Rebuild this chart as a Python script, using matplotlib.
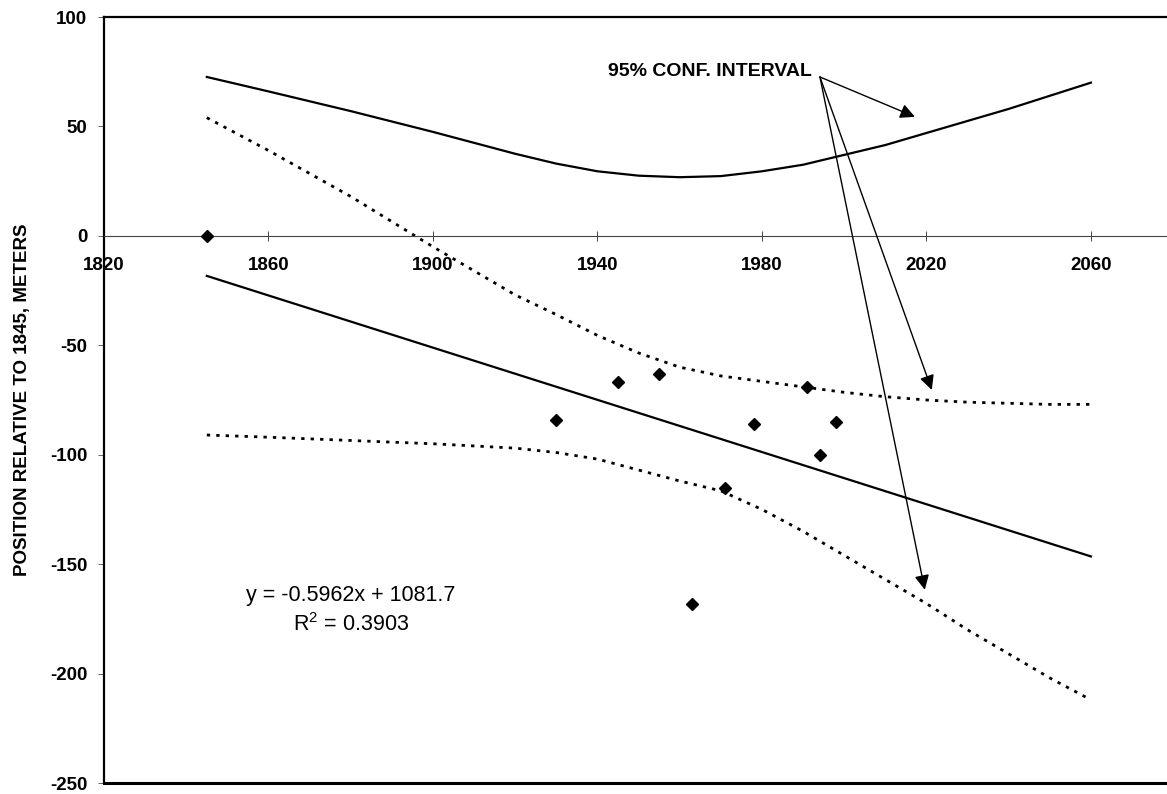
import numpy as np
import matplotlib.pyplot as plt

plt.rcParams['font.family'] = ['Liberation Sans', 'DejaVu Sans']
plt.rcParams['axes.unicode_minus'] = False

# survey points (year, position relative to 1845 in m)
years = [1845, 1930, 1945, 1955, 1963, 1971, 1978, 1991, 1994, 1998]
positions = [0, -84, -67, -63, -168, -115, -86, -69, -100, -85]

# linear trend shown on the chart
slope = -0.5962
intercept = 1081.7
trend_years = np.array([1845, 2060])

# 95% confidence band
band_years = [1845, 1860, 1880, 1900, 1910, 1920, 1930, 1940, 1950, 1960,
              1970, 1980, 1990, 2000, 2010, 2020, 2030, 2040, 2050, 2060]
band_width = [72.6, 66, 57, 47.5, 42.5, 37.5, 33, 29.5, 27.5, 26.8,
              27.3, 29.5, 32.5, 37, 41.5, 47, 52.5, 58, 64, 70]
band_upper = [54, 39, 18, -5, -16, -27, -36, -45.5, -53.5, -60,
              -64, -66.5, -69, -71.5, -73.5, -75, -76, -76.5, -77, -77]
band_lower = [-91, -92, -93.5, -95, -96, -97, -99, -102, -107, -112,
              -116.5, -125, -135, -146, -157, -168, -180, -191, -202, -212]

x_ticks = [1820, 1860, 1900, 1940, 1980, 2020, 2060]
y_ticks = [100, 50, 0, -50, -100, -150, -200, -250]

fig = plt.figure(figsize=(11.67, 7.94), dpi=100)
ax = fig.add_axes([104/1167, 1-783/794, 1-104/1167, (783-17)/794])

ax.plot(band_years, band_width, color='black', lw=1.6)
ax.plot(band_years, band_upper, color='black', lw=2, linestyle=(0, (1.2, 2.2)))
ax.plot(band_years, band_lower, color='black', lw=2, linestyle=(0, (1.2, 2.2)))
ax.plot(trend_years, slope*trend_years + intercept, color='black', lw=1.6)
ax.plot(years, positions, linestyle='none', marker='D', markersize=6, color='black', zorder=5)

ax.set_xlim(1820, 2078.5)
ax.set_ylim(-250, 100)

# x axis crosses at zero
ax.spines['bottom'].set_position(('data', 0))
ax.spines['bottom'].set_linewidth(0.8)
ax.spines['bottom'].set_color('#444444')
ax.spines['right'].set_visible(False)
ax.spines['top'].set_linewidth(1.6)
ax.spines['left'].set_linewidth(1.6)
ax.axhline(-250, color='black', lw=2.2, clip_on=False, zorder=3)

ax.set_xticks(x_ticks)
ax.set_yticks(y_ticks)
ax.tick_params(axis='x', direction='inout', length=7, width=0.7, color='#444444', pad=12,
               labelsize=13.5)
ax.tick_params(axis='y', direction='out', length=4, width=0.7, color='#666666', pad=8,
               labelsize=13.5)
for lab in ax.get_xticklabels() + ax.get_yticklabels():
    lab.set_fontweight('bold')

ax.set_ylabel('POSITION RELATIVE TO 1845, METERS', fontsize=13.5, fontweight='bold', labelpad=14)

# regression text
ax.text(1880, -164.5, 'y = -0.5962x + 1081.7', ha='center', va='center', fontsize=15.5)
ax.text(1880, -177.5, r'R$^\mathregular{2}$ = 0.3903', ha='center', va='center', fontsize=15.5)

# confidence interval callout
ax.text(1992.2, 75, '95% CONF. INTERVAL', ha='right', va='center', fontsize=14, fontweight='bold')
start = (1994.1, 72.6)
for tip in [(2017.2, 54.4), (2021.3, -70.4), (2019.6, -161.7)]:
    ax.annotate('', xy=tip, xytext=start,
                arrowprops=dict(arrowstyle='-|>', mutation_scale=22, lw=1.0, color='black',
                                shrinkA=0, shrinkB=0))

fig.savefig('out.png', dpi=100)
